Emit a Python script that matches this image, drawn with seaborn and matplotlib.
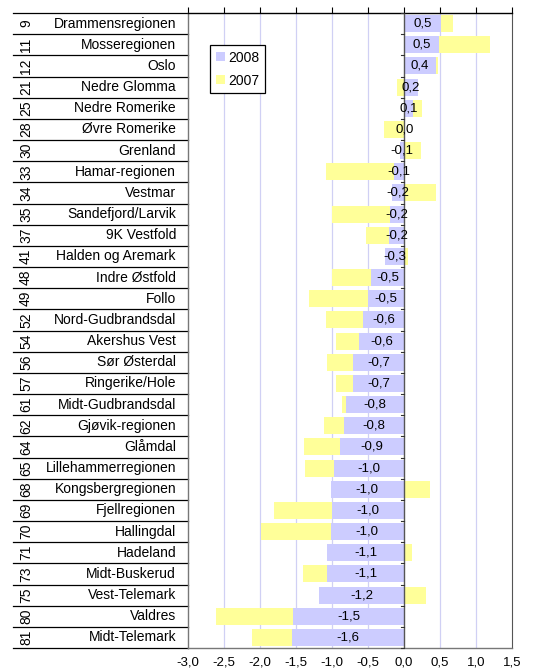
import matplotlib
matplotlib.use("Agg")
import matplotlib.pyplot as plt
import matplotlib.transforms as mtransforms
from matplotlib.patches import Patch
import seaborn as sns
import pandas as pd

ranks = [9, 11, 12, 21, 25, 28, 30, 33, 34, 35, 37, 41, 48, 49, 52, 54, 56, 57,
         61, 62, 64, 65, 68, 69, 70, 71, 73, 75, 80, 81]
regions = ["Drammensregionen", "Mosseregionen", "Oslo", "Nedre Glomma",
           "Nedre Romerike", "Øvre Romerike", "Grenland", "Hamar-regionen",
           "Vestmar", "Sandefjord/Larvik", "9K Vestfold", "Halden og Aremark",
           "Indre Østfold", "Follo", "Nord-Gudbrandsdal", "Akershus Vest",
           "Sør Østerdal", "Ringerike/Hole", "Midt-Gudbrandsdal",
           "Gjøvik-regionen", "Glåmdal", "Lillehammerregionen",
           "Kongsbergregionen", "Fjellregionen", "Hallingdal", "Hadeland",
           "Midt-Buskerud", "Vest-Telemark", "Valdres", "Midt-Telemark"]
v2008 = [0.51, 0.49, 0.44, 0.19, 0.12, 0.01, -0.06, -0.14, -0.16, -0.19,
         -0.21, -0.26, -0.46, -0.50, -0.57, -0.62, -0.71, -0.71, -0.81, -0.83,
         -0.89, -0.97, -1.02, -1.00, -1.02, -1.07, -1.07, -1.18, -1.54, -1.56]
v2007 = [0.68, 1.20, 0.47, -0.10, 0.25, -0.28, 0.24, -1.09, 0.44, -1.00,
         -0.53, 0.05, -1.00, -1.32, -1.09, -0.94, -1.07, -0.95, -0.86, -1.11,
         -1.39, -1.37, 0.36, -1.80, -1.99, 0.11, -1.40, 0.31, -2.61, -2.11]
xticks = [-3.0, -2.5, -2.0, -1.5, -1.0, -0.5, 0.0, 0.5, 1.0, 1.5]

df = pd.DataFrame({"region": regions, "v2008": v2008, "v2007": v2007})

plt.rcParams["font.family"] = ["Liberation Sans", "DejaVu Sans"]
plt.rcParams["axes.unicode_minus"] = False

W, H = 547, 671
fig = plt.figure(figsize=(W / 100, H / 100), dpi=100)
L, R, T, B = 188, 512, 13, 648
ax = fig.add_axes([L / W, 1 - B / H, (R - L) / W, (B - T) / H])

c08 = "#CCCCFF"
c07 = "#FFFF99"

sns.barplot(data=df, y="region", x="v2007", color=c07, width=0.8,
            saturation=1, orient="h", ax=ax, zorder=2)
sns.barplot(data=df, y="region", x="v2008", color=c08, width=0.8,
            saturation=1, orient="h", ax=ax, zorder=3)

n = len(regions)
ax.set_xlim(-3.0, 1.5)
ax.set_ylim(n - 0.5, -0.5)
ax.set_xticks(xticks)
ax.set_xticklabels([f"{t:.1f}".replace(".", ",") for t in xticks], fontsize=9.5)
ax.tick_params(axis="x", top=True, bottom=False, labeltop=False,
               labelbottom=True, direction="out", length=4, width=0.8,
               color="black", pad=2)
ax.set_yticks([])
ax.set_xlabel("")
ax.set_ylabel("")

for t in xticks[1:-1]:
    if t != 0:
        ax.axvline(t, color="#D0D0F4", lw=0.9, zorder=1)
ax.axvline(0, color="#555555", lw=1.0, zorder=4)
for i in range(n + 1):
    ax.plot([-0.045, 0], [i - 0.5, i - 0.5], color="#333333", lw=0.8,
            zorder=4, clip_on=False)

for s in ["left", "bottom"]:
    ax.spines[s].set_color("#777777")
    ax.spines[s].set_linewidth(1.0)
ax.spines["right"].set_color("#555555")
ax.spines["top"].set_color("black")
ax.spines["top"].set_linewidth(1.0)

# value labels for 2008
for i, v in enumerate(v2008):
    ax.text(v / 2, i, f"{v:.1f}".replace(".", ","), ha="center", va="center",
            fontsize=9.5, zorder=5)

# left table
trans = mtransforms.blended_transform_factory(ax.transAxes, ax.transData)
x_name = (176 - L) / (R - L)
x_rank = (26 - L) / (R - L)
x_line0 = (13 - L) / (R - L)
for i, (rk, nm) in enumerate(zip(ranks, regions)):
    ax.text(x_name, i, nm, ha="right", va="center", fontsize=10,
            transform=trans, clip_on=False)
    ax.text(x_rank, i, str(rk), ha="center", va="center", fontsize=10,
            rotation=90, transform=trans, clip_on=False)
for i in range(n + 1):
    ax.plot([x_line0, 0], [i - 0.5, i - 0.5], color="black", lw=0.9,
            transform=trans, clip_on=False)

handles = [Patch(facecolor=c08, edgecolor="none", label="2008"),
           Patch(facecolor=c07, edgecolor="none", label="2007")]
leg = ax.legend(handles=handles, loc="upper left",
                bbox_to_anchor=((210 - L) / (R - L), (B - 45) / (B - T)),
                fontsize=10, frameon=True, fancybox=False, framealpha=1,
                edgecolor="black", handlelength=0.65, handleheight=0.65,
                handletextpad=0.25, labelspacing=0.65, borderpad=0.4,
                borderaxespad=0)
leg.get_frame().set_linewidth(0.9)

fig.savefig("out.png", dpi=100)
